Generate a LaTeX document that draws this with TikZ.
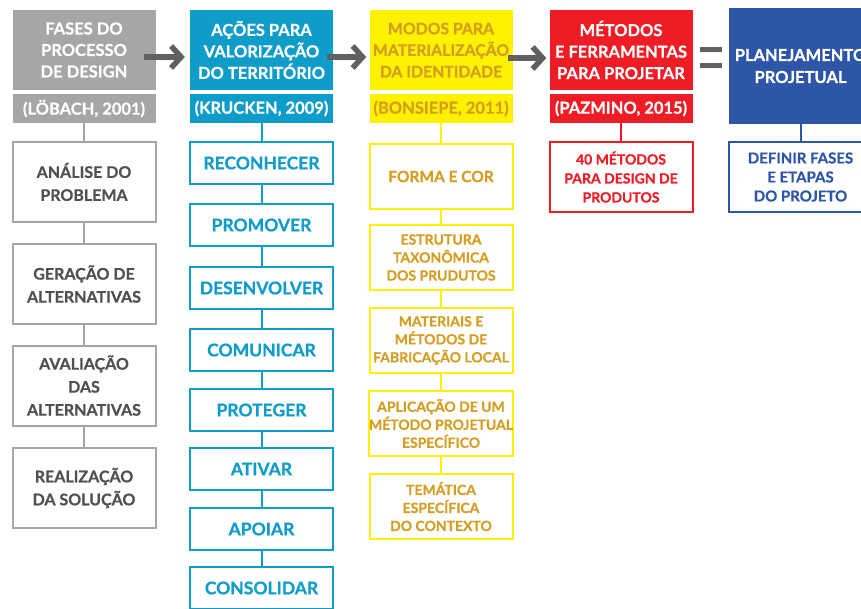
\documentclass[tikz,border=0pt]{standalone}
\usepackage{fontspec}
\setmainfont{Lato}[BoldFeatures={FakeBold=0.6}]
\usetikzlibrary{arrows.meta}

\definecolor{cinza}{HTML}{A6A6A6}
\definecolor{cinzatxt}{HTML}{505050}
\definecolor{azul}{HTML}{0E9CC8}
\definecolor{amarelo}{HTML}{FFF200}
\definecolor{ouro}{HTML}{D49E22}
\definecolor{vermelho}{HTML}{EE1C24}
\definecolor{marinho}{HTML}{2D56A6}
\definecolor{seta}{HTML}{606060}

\tikzset{
  cab/.style={fill=#1,text=white,minimum width=143pt,minimum height=80pt,inner sep=0pt,align=center,
    font=\fontsize{16.5}{21.5}\selectfont\bfseries},
  ref/.style={fill=#1,text=white,minimum width=143pt,minimum height=29pt,inner sep=0pt,
    font=\fontsize{16.5}{18}\selectfont\bfseries},
  caixa/.style={draw=#1,text=#1,fill=white,line width=2pt,minimum width=143pt,inner sep=0pt,align=center},
  liga/.style={draw=#1,line width=2pt},
  seta/.style={draw=seta,line width=5.5pt,-{Straight Barb[length=10pt,width=22pt]}}
}

\begin{document}
\begin{tikzpicture}[x=1pt,y=-1pt]
  \clip (0,0) rectangle (861,608);
  \fill[white] (0,0) rectangle (861,608);

  \node[cab=cinza] (gc) at (84,50) {FASES DO\\PROCESSO\\DE DESIGN};
  \node[ref=cinza] (gr) at (84,108.5) {(LÖBACH, 2001)};
  \foreach \n/\y/\t in {1/182/{ANÁLISE DO\\PROBLEMA},2/284/{GERAÇÃO DE\\ALTERNATIVAS},
      3/385.5/{AVALIAÇÃO\\DAS\\ALTERNATIVAS},4/488/{REALIZAÇÃO\\DA SOLUÇÃO}}
    \node[caixa=cinza,text=cinzatxt,minimum height=80pt,font=\fontsize{16}{23}\selectfont\bfseries] (g\n) at (84,\y) {\t};
  \foreach \n [remember=\n as \m (initially r)] in {1,...,4}
    \draw[liga=cinza] (g\m.south) -- (g\n.north);

  \node[cab=azul] (bc) at (261.5,50) {AÇÕES PARA\\VALORIZAÇÃO\\DO TERRITÓRIO};
  \node[ref=azul] (br) at (261.5,108.5) {(KRUCKEN, 2009)};
  \foreach \n/\y/\t in {1/163/RECONHECER,2/225/PROMOVER,3/288/DESENVOLVER,4/350/COMUNICAR,
      5/410/PROTEGER,6/469/ATIVAR,7/529/APOIAR,8/588/CONSOLIDAR}
    \node[caixa=azul,minimum height=42pt,font=\fontsize{17.5}{20}\selectfont\bfseries] (b\n) at (261.5,\y) {\t};
  \foreach \n [remember=\n as \m (initially r)] in {1,...,8}
    \draw[liga=azul] (b\m.south) -- (b\n.north);

  \node[cab=amarelo,text=ouro,font=\fontsize{15.8}{21.5}\selectfont\bfseries] (ac) at (441,50)
    {MODOS PARA\\MATERIALIZAÇÃO\\DA IDENTIDADE};
  \node[ref=amarelo,text=ouro] (ar) at (441,108.5) {(BONSIEPE, 2011)};
  \node[caixa=amarelo,text=ouro,minimum height=65pt,font=\fontsize{15.5}{18}\selectfont\bfseries] (a1) at (441,176.5)
    {FORMA E COR};
  \foreach \n/\y/\t in {2/257.5/{ESTRUTURA\\TAXONÔMICA\\DOS PRUDUTOS},
      3/340.5/{MATERIAIS E\\MÉTODOS DE\\FABRICAÇÃO LOCAL},4/423.5/{APLICAÇÃO DE UM\\MÉTODO PROJETUAL\\ESPECÍFICO},
      5/506.5/{TEMÁTICA\\ESPECÍFICA\\DO CONTEXTO}}
    \node[caixa=amarelo,text=ouro,minimum height=65pt,font=\fontsize{14}{18}\selectfont\bfseries] (a\n) at (441,\y) {\t};
  \foreach \n [remember=\n as \m (initially r)] in {1,...,5}
    \draw[liga=amarelo] (a\m.south) -- (a\n.north);

  \node[cab=vermelho] (vc) at (621,50) {MÉTODOS\\E FERRAMENTAS\\PARA PROJETAR};
  \node[ref=vermelho] (vr) at (621,108.5) {(PAZMINO, 2015)};
  \node[caixa=vermelho,minimum height=70pt,font=\fontsize{14}{19}\selectfont\bfseries] (v1) at (621,177)
    {40 MÉTODOS\\PARA DESIGN DE\\PRODUTOS};
  \draw[liga=vermelho] (vr.south) -- (v1.north);

  \node[cab=marinho,minimum height=116pt,font=\fontsize{16.5}{22}\selectfont\bfseries] (pc) at (800.5,66)
    {PLANEJAMENTO\\PROJETUAL};
  \node[caixa=marinho,minimum height=70pt,font=\fontsize{15}{19}\selectfont\bfseries] (p1) at (800.5,177)
    {DEFINIR FASES\\E ETAPAS\\DO PROJETO};
  \draw[liga=marinho] (pc.south) -- (p1.north);

  \draw[seta] ([xshift=-12pt,yshift=-7pt]gc.east) -- ([xshift=-5pt,yshift=-7pt]bc.west);
  \draw[seta] ([xshift=-6pt,yshift=-7pt]bc.east) -- ([xshift=-3pt,yshift=-7pt]ac.west);
  \draw[seta] ([xshift=-5pt,yshift=-8pt]ac.east) -- ([xshift=-3pt,yshift=-8pt]vc.west);
  \draw[seta,-,line width=5pt] ([xshift=7.5pt,yshift=1pt]vc.east) -- ([xshift=29.5pt,yshift=1pt]vc.east);
  \draw[seta,-,line width=5pt] ([xshift=7.5pt,yshift=-15pt]vc.east) -- ([xshift=29.5pt,yshift=-15pt]vc.east);
\end{tikzpicture}
\end{document}
